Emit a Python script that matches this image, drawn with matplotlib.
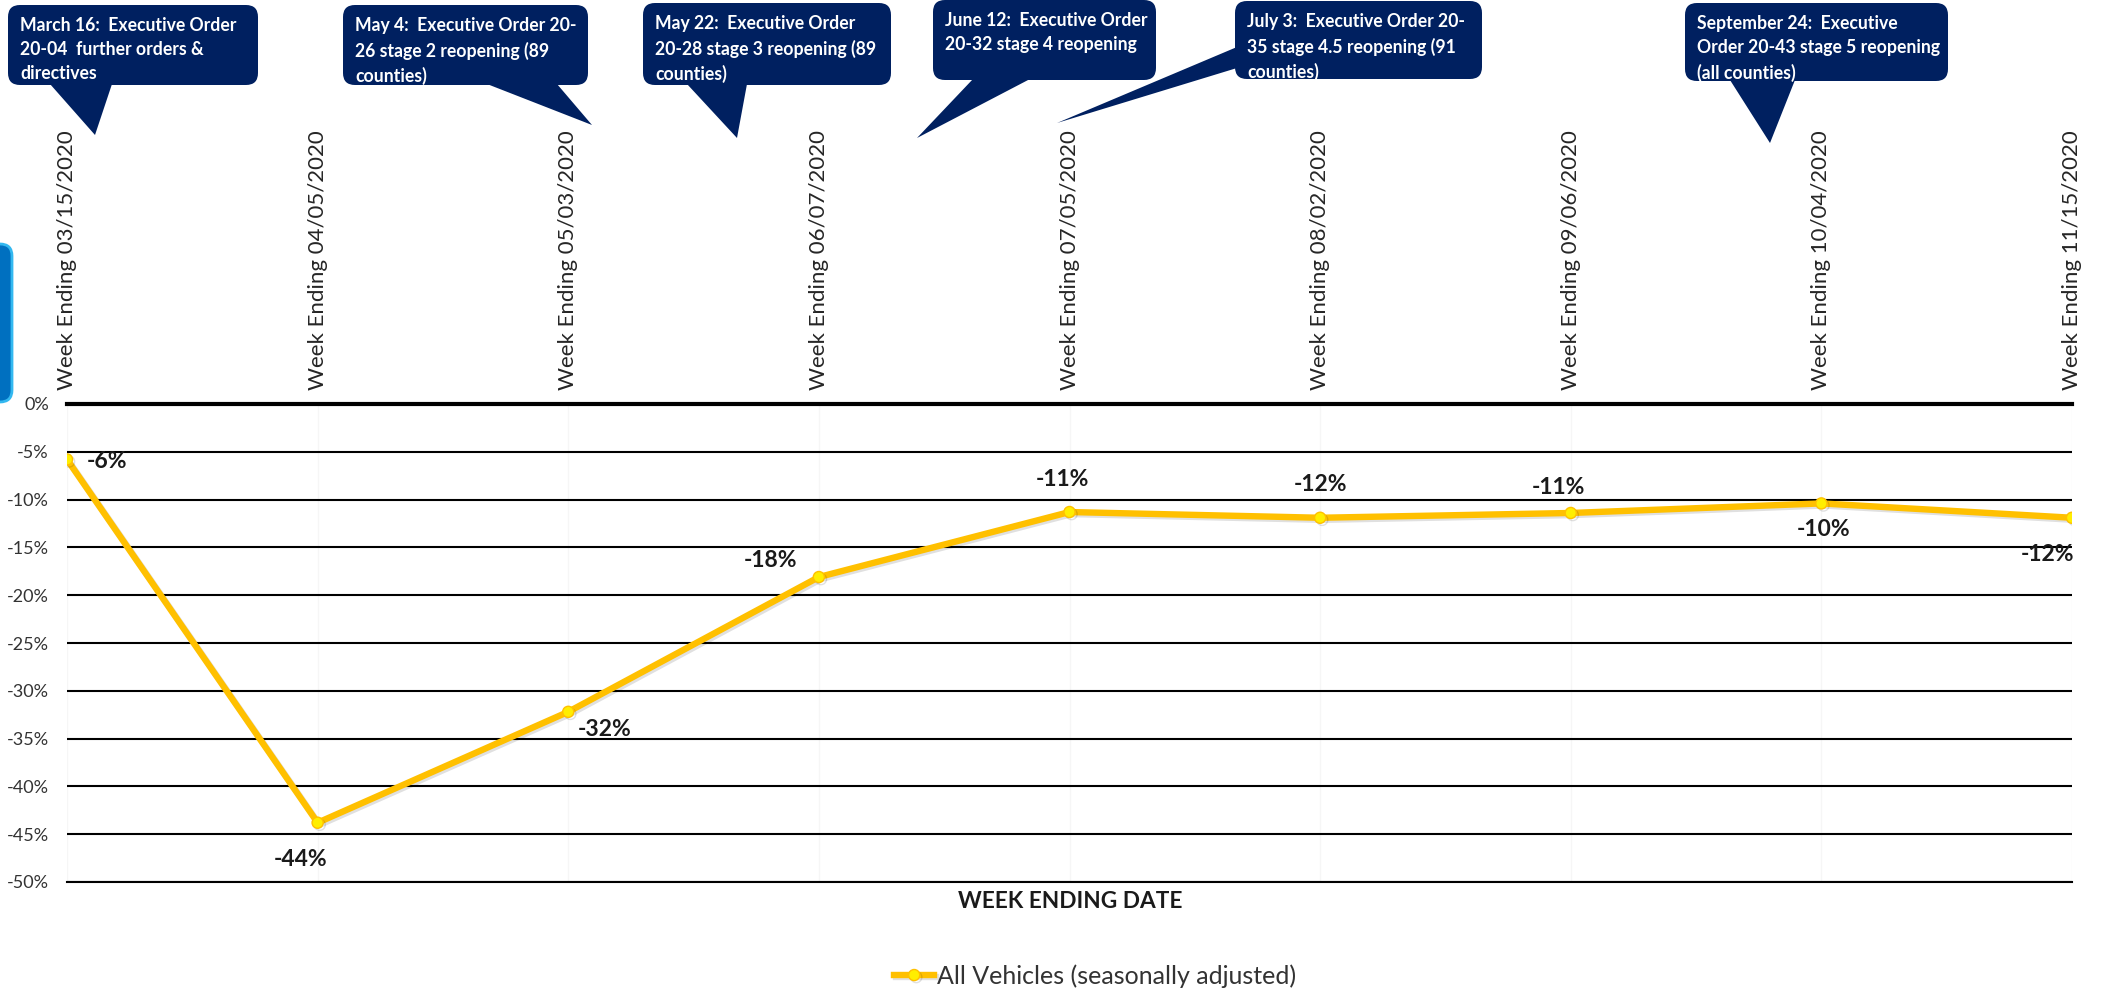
import matplotlib
matplotlib.use("Agg")
import matplotlib.pyplot as plt
import matplotlib.patheffects as pe
from matplotlib.patches import FancyBboxPatch, Polygon
from matplotlib.ticker import FuncFormatter

plt.rcParams["font.family"] = ["Lato", "DejaVu Sans"]

# data
weeks = ["03/15/2020", "04/05/2020", "05/03/2020", "06/07/2020", "07/05/2020",
         "08/02/2020", "09/06/2020", "10/04/2020", "11/15/2020"]
all_vehicles = [-5.8, -43.8, -32.2, -18.1, -11.3, -11.9, -11.4, -10.4, -11.9]
series_name = "All Vehicles (seasonally adjusted)"
y_ticks = [0, -5, -10, -15, -20, -25, -30, -35, -40, -45, -50]

events = [
    "March 16:  Executive Order\n20-04  further orders &\ndirectives",
    "May 4:  Executive Order 20-\n26 stage 2 reopening (89\ncounties)",
    "May 22:  Executive Order\n20-28 stage 3 reopening (89\ncounties)",
    "June 12:  Executive Order\n20-32 stage 4 reopening",
    "July 3:  Executive Order 20-\n35 stage 4.5 reopening (91\ncounties)",
    "September 24:  Executive\nOrder 20-43 stage 5 reopening\n(all counties)",
]

# layout (pixels, origin top-left)
W, H = 2105, 990
label_offsets = [(20, -2, "left"), (-17, -37, "center"), (36, -18, "center"),
                 (-48, 17, "center"), (-7, 33, "center"), (0, 33, "center"),
                 (-12, 25, "center"), (2, -26, "center"), (-24, -37, "center")]
callout_boxes = [(8, 5, 258, 85), (343, 5, 588, 85), (643, 3, 891, 85),
                 (933, 0, 1156, 80), (1235, 1, 1482, 79), (1685, 3, 1948, 81)]
callout_tails = [
    [(50, 84), (112, 84), (95, 135)],
    [(487, 84), (557, 84), (592, 125)],
    [(687, 84), (747, 84), (737, 138)],
    [(973, 79), (1030, 79), (917, 138)],
    [(1237, 47), (1237, 68), (1057, 123)],
    [(1730, 80), (1795, 80), (1770, 143)],
]
NAVY = "#002060"
GOLD = "#FFC000"

fig = plt.figure(figsize=(W / 100, H / 100), dpi=100)
ax = fig.add_axes([67 / W, 1 - 882 / H, (2072 - 67) / W, (882 - 404) / H])

x = list(range(len(weeks)))
ax.plot(x, all_vehicles, color=GOLD, lw=4.6, marker="o", ms=8,
        mfc="#FFEE00", mec=GOLD, mew=1, label=series_name, zorder=5,
        path_effects=[pe.SimpleLineShadow(offset=(1.5, -1.5), alpha=0.12),
                      pe.Normal()])

for xi, v, (dx, dy, ha) in zip(x, all_vehicles, label_offsets):
    ax.annotate(f"{round(v):.0f}%", (xi, v), xytext=(dx, dy),
                textcoords="offset pixels", ha=ha, va="center",
                fontsize=16.5, weight="bold", color="#1a1a1a",
                annotation_clip=False, zorder=6)

ax.set_xlim(0, len(weeks) - 1)
ax.set_ylim(-50, 0)
ax.set_yticks(y_ticks)
ax.yaxis.set_major_formatter(FuncFormatter(lambda v, _: f"{v:.0f}%"))
ax.tick_params(axis="y", length=0, pad=13, labelsize=13, labelcolor="#333333")

ax.set_xticks(x)
ax.set_xticklabels(["Week Ending " + w for w in weeks], rotation=90,
                   fontsize=16, color="#262626")
ax.xaxis.tick_top()
ax.tick_params(axis="x", length=0, pad=10)

ax.grid(axis="y", color="black", lw=1.5)
ax.grid(axis="x", color="#f6f6f6", lw=1)
for side in ["left", "right"]:
    ax.spines[side].set_visible(False)
ax.spines["top"].set_linewidth(3)
ax.spines["bottom"].set_linewidth(1.5)

fig.text(1070 / W, 1 - 902 / H, "WEEK ENDING DATE", ha="center", va="center",
         fontsize=16.3, weight="bold", color="#1a1a1a")
fig.legend(loc="center", bbox_to_anchor=(1095 / W, 1 - 976 / H), frameon=False,
           fontsize=18, handlelength=1.6, handletextpad=0.1,
           labelcolor="#333333")

# overlay in pixel units for the callouts
ov = fig.add_axes([0, 0, 1, 1], zorder=10)
ov.set_xlim(0, W)
ov.set_ylim(H, 0)
ov.axis("off")

ov.add_patch(FancyBboxPatch((-30, 244), 42, 158,
                            boxstyle="round,pad=0,rounding_size=12",
                            fc="#0070C0", ec="#33B8F0", lw=2))

for (x0, y0, x1, y1), tail, txt in zip(callout_boxes, callout_tails, events):
    ov.add_patch(FancyBboxPatch((x0, y0), x1 - x0, y1 - y0,
                                boxstyle="round,pad=0,rounding_size=12",
                                fc=NAVY, ec="none"))
    ov.add_patch(Polygon(tail, closed=True, fc=NAVY, ec="none"))
    ov.text(x0 + 12, y0 + 12, txt, ha="left", va="top", color="white",
            fontsize=12.7, weight="bold", linespacing=1.5)

fig.savefig("out.png", dpi=100)
